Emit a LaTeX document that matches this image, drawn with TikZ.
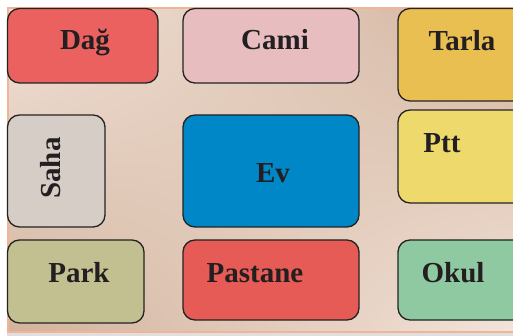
\documentclass[tikz,border=0pt]{standalone}
\usepackage{fontspec}
\setmainfont{Liberation Serif}
\usetikzlibrary{shadings}
\definecolor{bgA}{HTML}{F2E4DA}
\definecolor{bgB}{HTML}{D2B29C}
\definecolor{frameC}{HTML}{F2B496}
\definecolor{cDag}{HTML}{EA6160}
\definecolor{cCami}{HTML}{E8BDBF}
\definecolor{cTarla}{HTML}{E9BF52}
\definecolor{cSaha}{HTML}{D6CDC7}
\definecolor{cEv}{HTML}{0087C7}
\definecolor{cPtt}{HTML}{EDD96C}
\definecolor{cPark}{HTML}{C2BF91}
\definecolor{cPastane}{HTML}{E65B56}
\definecolor{cOkul}{HTML}{8FC9A1}
\definecolor{edgeC}{HTML}{232323}
\definecolor{txtC}{HTML}{231F20}
\begin{document}
\begin{tikzpicture}[x=1pt,y=-1pt,
  place/.style={draw=edgeC,line width=1.3pt,rounded corners=12pt},
  lbl/.style={font=\fontsize{29}{32}\selectfont\bfseries,text=txtC,anchor=base,inner sep=0pt}]
\useasboundingbox (0,0) rectangle (513,336);
\fill[white] (0,0) rectangle (513,336);
\fill[gray!25] (7,333) rectangle (513,336);
\shade[upper left=bgA,upper right=bgB,lower left=bgB,lower right=bgA] (8,8) rectangle (513,332);
\draw[frameC,line width=2pt] (513,8) -- (8,8) -- (8,332) -- (513,332);
% boxes
\draw[place,fill=cDag] (7.5,8.5) rectangle (158,83);
\draw[place,fill=cCami] (183,8.5) rectangle (359,83);
\draw[place,fill=cTarla] (398,8.5) rectangle (525,101);
\draw[place,fill=cSaha] (7.5,115) rectangle (105,227);
\draw[place,fill=cEv] (183,115) rectangle (359,227);
\draw[place,fill=cPtt] (398,110) rectangle (525,203);
\draw[place,fill=cPark] (7.5,240) rectangle (144,323);
\draw[place,fill=cPastane] (183,240) rectangle (359,320);
\draw[place,fill=cOkul] (398,240) rectangle (525,320);
% labels
\node[lbl] (dag) at (85,50) {Dağ};
\node[lbl] (cami) at (275,50) {Cami};
\node[lbl] (tarla) at (462,51) {Tarla};
\node[lbl,rotate=90] (saha) at (60,168) {Saha};
\node[lbl] (ev) at (273,183) {Ev};
\node[lbl] (ptt) at (442,153) {Ptt};
\node[lbl] (park) at (79,282) {Park};
\node[lbl] (pastane) at (255,282) {Pastane};
\node[lbl] (okul) at (453,282) {Okul};
\end{tikzpicture}
\end{document}
